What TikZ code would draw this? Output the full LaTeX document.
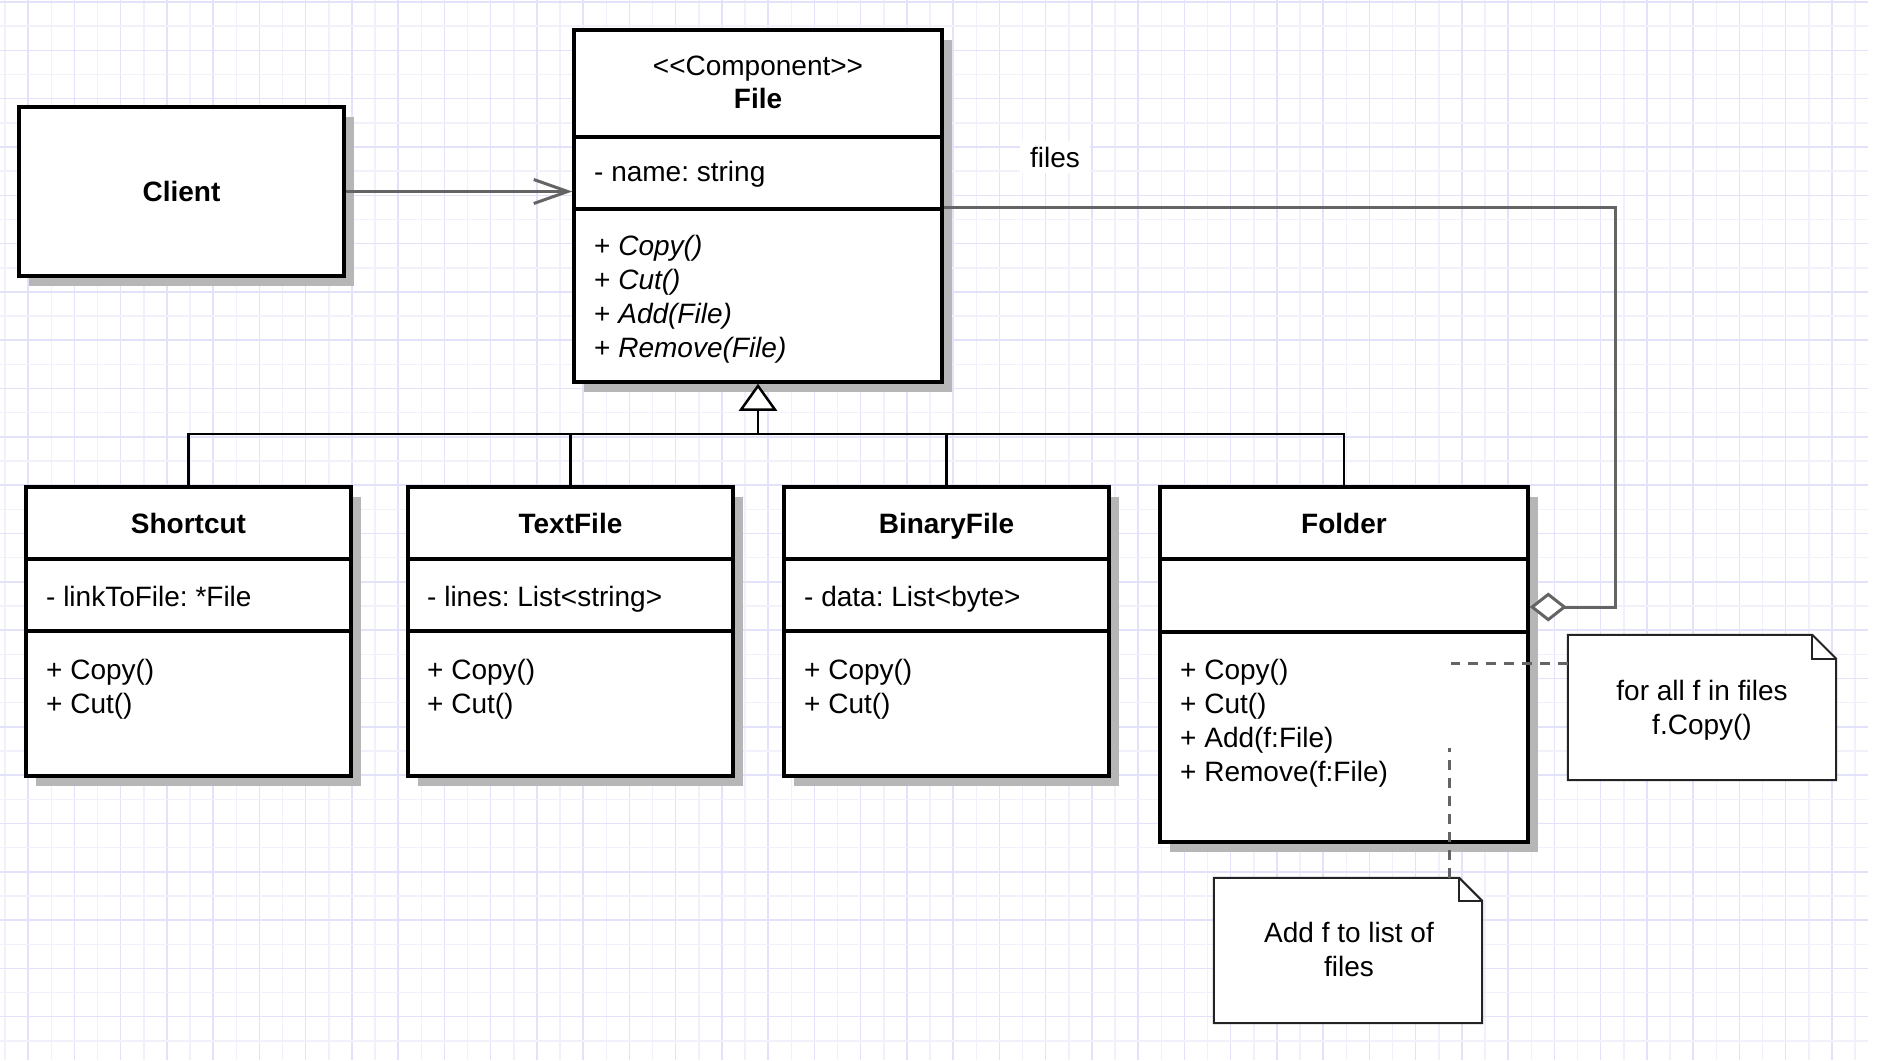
\documentclass[tikz,border=0pt]{standalone}
\usepackage{fontspec}
\setmainfont{Liberation Sans}
\usetikzlibrary{arrows.meta,shadows}
\definecolor{gridA}{RGB}{226,226,250}
\definecolor{gridB}{RGB}{241,241,252}
\definecolor{shadowgray}{RGB}{182,182,182}
\definecolor{linegray}{RGB}{100,100,100}
\definecolor{notegray}{RGB}{35,35,35}
\newcommand\myfs{\fontsize{28}{34}\selectfont\frenchspacing}
\newcommand\lt{\textless\kern0pt}
\newcommand\gt{\textgreater\kern0pt}
\frenchspacing
\begin{document}
\begin{tikzpicture}[x=1pt,y=-1pt,
  every node/.style={font=\myfs, inner sep=0pt},
  classbox/.style={rectangle, draw=black, line width=3.5pt, fill=white,
    general shadow={fill=shadowgray, shadow xshift=10pt, shadow yshift=-10pt}},
  divider/.style={draw=black, line width=3.5pt},
  classname/.style={anchor=base, font=\myfs\bfseries},
  member/.style={anchor=base west, align=left},
  assoc/.style={draw=linegray, line width=3pt},
  genline/.style={draw=black, line width=2.5pt},
  notebox/.style={rectangle, minimum width=268pt, minimum height=145pt},
  noteborder/.style={draw=notegray, line width=2pt, line join=miter},
  notetext/.style={anchor=base, align=center},
  noteline/.style={draw=linegray, line width=3pt, dash pattern=on 10pt off 8pt}]

\useasboundingbox (0,0) rectangle (1884,1060);
\fill[white] (0,0) rectangle (1884,1060);

% grid
\foreach \k in {0,...,80}{
  \pgfmathsetmacro\gx{5+23.125*\k}
  \ifodd\k \def\gc{gridA}\else\def\gc{gridB}\fi
  \draw[\gc, line width=1.5pt] (\gx,0) -- (\gx,1060);
}
\foreach \k in {0,...,43}{
  \pgfmathsetmacro\gy{2+24.16*\k}
  \ifodd\k \def\gc{gridB}\else\def\gc{gridA}\fi
  \draw[\gc, line width=1.5pt] (0,\gy) -- (1868,\gy);
}

% Client
\node[classbox, minimum width=325pt, minimum height=169pt, font=\myfs\bfseries] (client) at (181.5,191.5) {Client};

% File
\node[classbox, minimum width=368pt, minimum height=352pt] (file) at (758,206) {};
\draw[divider] (file.west |- 0,137) -- (file.east |- 0,137);
\draw[divider] (file.west |- 0,209) -- (file.east |- 0,209);
\node[anchor=base] (filestereo) at (758,75) {\lt\lt Component\gt\gt};
\node[classname] (filename) at (758,108) {File};
\node[member] (fileattr) at (594,181) {- name: string};
\node[member] (fileops) at (594,357) {+ \textit{Copy()}\\+ \textit{Cut()}\\+ \textit{Add(File)}\\+ \textit{Remove(File)}};

% Shortcut
\node[classbox, minimum width=325pt, minimum height=289pt] (shortcut) at (188.5,631.5) {};
\draw[divider] (shortcut.west |- 0,559) -- (shortcut.east |- 0,559);
\draw[divider] (shortcut.west |- 0,631) -- (shortcut.east |- 0,631);
\node[classname] (shortcutname) at (188.5,533) {Shortcut};
\node[member] (shortcutattr) at (46,606) {- linkToFile: *File};
\node[member] (shortcutops) at (46,713) {+ Copy()\\+ Cut()};

% TextFile
\node[classbox, minimum width=325pt, minimum height=289pt] (textfile) at (570.5,631.5) {};
\draw[divider] (textfile.west |- 0,559) -- (textfile.east |- 0,559);
\draw[divider] (textfile.west |- 0,631) -- (textfile.east |- 0,631);
\node[classname] (textfilename) at (570.5,533) {TextFile};
\node[member] (textfileattr) at (427,606) {- lines: List\lt string\gt};
\node[member] (textfileops) at (427,713) {+ Copy()\\+ Cut()};

% BinaryFile
\node[classbox, minimum width=325pt, minimum height=289pt] (binaryfile) at (946.5,631.5) {};
\draw[divider] (binaryfile.west |- 0,559) -- (binaryfile.east |- 0,559);
\draw[divider] (binaryfile.west |- 0,631) -- (binaryfile.east |- 0,631);
\node[classname] (binaryfilename) at (946.5,533) {BinaryFile};
\node[member] (binaryfileattr) at (804,606) {- data: List\lt byte\gt};
\node[member] (binaryfileops) at (804,713) {+ Copy()\\+ Cut()};

% Folder
\node[classbox, minimum width=368pt, minimum height=355pt] (folder) at (1344,664.5) {};
\draw[divider] (folder.west |- 0,559) -- (folder.east |- 0,559);
\draw[divider] (folder.west |- 0,632) -- (folder.east |- 0,632);
\node[classname] (foldername) at (1344,533) {Folder};
\node[member] (folderops) at (1180,781) {+ Copy()\\+ Cut()\\+ Add(f:File)\\+ Remove(f:File)};

% Client -> File association
\draw[assoc, -{Straight Barb[length=34pt, width=24pt]}] (client.east) -- (client.east -| file.west);

% generalization
\coordinate (bus) at (758,434);
\draw[genline] (shortcut.north) |- (bus) -| (folder.north);
\draw[genline] (textfile.north) -- (textfile.north |- bus);
\draw[genline] (binaryfile.north) -- (binaryfile.north |- bus);
\draw[genline, -{Triangle[fill=white, length=27pt, width=38pt]}] (bus) -- (file.south);

% aggregation
\coordinate (aggbend) at (1615,607);
\draw[assoc, -{Diamond[fill=white, length=37pt, width=29pt]}] (file.east |- 0,207) -| (aggbend) -- (folder.east |- aggbend);
\node[anchor=base west, fill=white, inner xsep=10pt, inner ysep=6pt] (fileslabel) at (1020,167) {files};

% notes
\node[notebox] (note1) at (1702,707.5) {};
\draw[noteborder, fill=white] (note1.north west) -- ([xshift=-24pt]note1.north east) -- ([yshift=-24pt]note1.north east) -- (note1.south east) -- (note1.south west) -- cycle;
\draw[noteborder] ([xshift=-24pt]note1.north east) |- ([yshift=-24pt]note1.north east);
\node[notetext] (note1text) at (1702,734) {for all f in files\\f.Copy()};

\node[notebox] (note2) at (1348,950.5) {};
\draw[noteborder, fill=white] (note2.north west) -- ([xshift=-23pt]note2.north east) -- ([yshift=-23pt]note2.north east) -- (note2.south east) -- (note2.south west) -- cycle;
\draw[noteborder] ([xshift=-23pt]note2.north east) |- ([yshift=-23pt]note2.north east);
\node[notetext] (note2text) at (1349,976) {Add f to list of\\files};

\coordinate (n1end) at (1451,663);
\draw[noteline] (note1.west |- n1end) -- (n1end);
\coordinate (n2end) at (1449,748);
\draw[noteline] (note2.north -| n2end) -- (n2end);

\end{tikzpicture}
\end{document}
